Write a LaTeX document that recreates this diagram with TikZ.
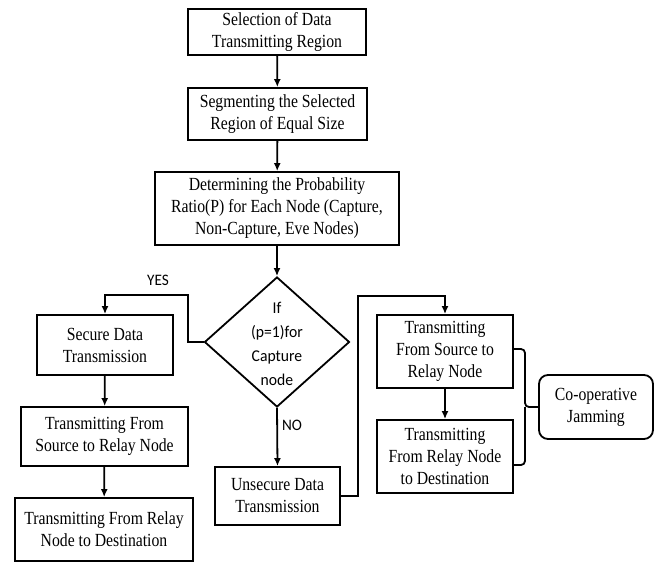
\documentclass[tikz,border=0pt]{standalone}
\usepackage{fontspec}
\usetikzlibrary{shapes.geometric,arrows.meta}
\newfontfamily\boxfont[FakeStretch=0.85]{Liberation Serif}
\newfontfamily\calfont[FakeStretch=0.95]{Carlito}
\begin{document}
\begin{tikzpicture}[x=1pt,y=-1pt,
  box/.style={draw,line width=1.8pt,inner sep=0pt,align=center,font=\boxfont\fontsize{18.5}{22}\selectfont},
  arr/.style={line width=1.8pt,-{Latex[length=8pt,width=7pt]}},
  ln/.style={line width=1.8pt},
  lbl/.style={font=\calfont\fontsize{16}{19}\selectfont,inner sep=0pt}]
\useasboundingbox (0,0) rectangle (656,563);
% main column
\node[box,minimum width=178,minimum height=46] (b1) at (277,32) {Selection of Data\\Transmitting Region};
\node[box,minimum width=179,minimum height=52] (b2) at (277.5,114) {Segmenting the Selected\\Region of Equal Size};
\node[box,minimum width=244,minimum height=73] (b3) at (277,208.5) {Determining the Probability\\Ratio(P) for Each Node (Capture,\\Non-Capture, Eve Nodes)};
\node[draw,diamond,line width=1.8pt,minimum width=145,minimum height=130,inner sep=0pt] (dia) at (277,342) {};
\node[lbl,align=center,font=\calfont\fontsize{16.5}{24}\selectfont] (dt) at (277,343.5) {If\\(p=1)for\\Capture\\node};
% left column
\node[box,minimum width=136,minimum height=60] (sec) at (105,345) {Secure Data\\Transmission};
\node[box,minimum width=167,minimum height=59] (l2) at (104.5,436.5) {Transmitting From\\Source to Relay Node};
\node[box,minimum width=178,minimum height=63] (l3) at (104,529.5) {Transmitting From Relay\\Node to Destination};
% middle
\node[box,minimum width=125,minimum height=58] (uns) at (277.5,496) {Unsecure Data\\Transmission};
% right column
\node[box,minimum width=136,minimum height=73] (r1) at (445,351.5) {Transmitting\\From Source to\\Relay Node};
\node[box,minimum width=136,minimum height=73] (r2) at (445,456.5) {Transmitting\\From Relay Node\\to Destination};
\node[box,rounded corners=9pt,minimum width=114,minimum height=64] (jam) at (596,407) {Co-operative\\Jamming};
% labels
\node[lbl] (yes) at (158,280) {YES};
\node[lbl] (no) at (292,425) {NO};
% connectors
\draw[arr] (b1) -- (b2);
\draw[arr] (b2) -- (b3);
\draw[arr] (b3) -- (dia);
\coordinate (y1) at (188,295);
\draw[arr] (dia.west) -| (y1) -| (sec.north);
\draw[arr] (sec) -- (l2);
\draw[arr] (l2) -- (l3);
\draw[arr] (dia.south) -- (uns.north);
\coordinate (u1) at (358,296);
\draw[arr] (uns.east) -| (u1) -| (r1.north);
\draw[arr] (r1) -- (r2);
\coordinate (bt) at (525,407);
\draw[ln,rounded corners=4pt] ([yshift=2.5pt]r1.east) -| (bt) -- (jam.west);
\draw[ln,rounded corners=4pt] ([yshift=-8.5pt]r2.east) -| (bt);
\end{tikzpicture}
\end{document}
